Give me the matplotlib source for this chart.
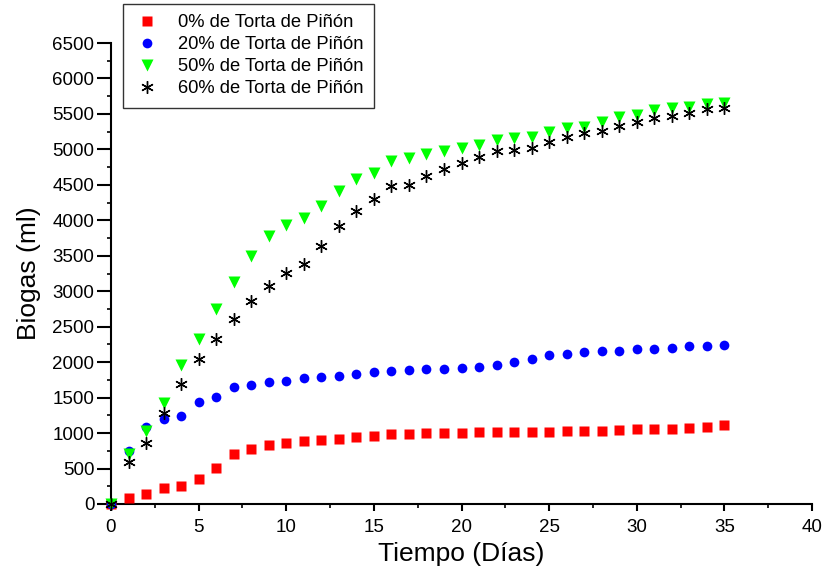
import matplotlib
matplotlib.use("Agg")
import matplotlib.pyplot as plt
import numpy as np

plt.rcParams["font.family"] = ["Liberation Sans", "DejaVu Sans"]

# days 0..35
dias = list(range(36))

# 0% de Torta de Piñón
biogas_0 = [0, 80, 137, 221, 250, 348, 503, 700, 771, 832, 865, 888, 907, 921,
            949, 959, 982, 992, 997, 1004, 1006, 1010, 1010, 1015, 1015, 1020,
            1024, 1024, 1034, 1043, 1052, 1057, 1057, 1076, 1081, 1114]
# 20% de Torta de Piñón
biogas_20 = [0, 747, 1081, 1194, 1245, 1434, 1513, 1650, 1682, 1716, 1739, 1781,
             1787, 1801, 1833, 1857, 1880, 1885, 1904, 1904, 1913, 1936, 1964,
             2007, 2040, 2097, 2115, 2143, 2157, 2162, 2181, 2190, 2200, 2223,
             2223, 2242]
# 50% de Torta de Piñón
biogas_50 = [0, 708, 1029, 1420, 1960, 2327, 2746, 3136, 3497, 3779, 3935, 4029,
             4202, 4418, 4583, 4672, 4841, 4884, 4936, 4982, 5020, 5063, 5129,
             5157, 5180, 5251, 5298, 5321, 5383, 5454, 5486, 5557, 5581, 5604,
             5638, 5661]
# 60% de Torta de Piñón
biogas_60 = [0, 597, 865, 1288, 1692, 2040, 2327, 2609, 2867, 3074, 3262, 3380,
             3638, 3920, 4131, 4300, 4484, 4498, 4625, 4730, 4813, 4889, 4978,
             4992, 5016, 5110, 5171, 5237, 5261, 5331, 5392, 5449, 5472, 5510,
             5566, 5590]

labels = ["0% de Torta de Piñón", "20% de Torta de Piñón",
          "50% de Torta de Piñón", "60% de Torta de Piñón"]

fig = plt.figure(figsize=(8.25, 5.8), dpi=100)
ax = fig.add_axes([111 / 825, 1 - 504 / 580, (812 - 111) / 825, (504 - 43) / 580])

ax.plot(dias, biogas_0, "s", color="#ff0000", ms=6.5, mec="none", clip_on=False, label=labels[0], zorder=3)
ax.plot(dias, biogas_20, "o", color="#0000ff", ms=7, mec="none", clip_on=False, label=labels[1], zorder=3)
ax.plot(dias, biogas_50, "v", color="#00ff00", ms=9, mec="none", clip_on=False, label=labels[2], zorder=3)
ax.plot(dias, biogas_60, marker=(6, 2, 0), ls="none", color="black", mec="black",
        ms=9, mew=1.0, clip_on=False, label=labels[3], zorder=4)

ax.set_xlim(0, 40)
ax.set_ylim(0, 6500)
ax.set_xticks(np.arange(0, 41, 5))
ax.set_xticks(np.arange(0, 41, 2.5), minor=True)
ax.set_yticks(np.arange(0, 6501, 500))
ax.set_yticks(np.arange(0, 6501, 250), minor=True)

for side in ["top", "right"]:
    ax.spines[side].set_visible(False)
for side in ["left", "bottom"]:
    ax.spines[side].set_linewidth(1.5)

ax.tick_params(which="major", direction="out", width=1.5, labelsize=13.5)
ax.tick_params(which="minor", direction="out", length=3, width=1.2)
ax.tick_params(axis="y", which="major", length=10, pad=2)
ax.tick_params(axis="x", which="major", length=5, pad=6)

ax.set_xlabel("Tiempo (Días)", fontsize=19, labelpad=4)
ax.set_ylabel("Biogas (ml)", fontsize=19, labelpad=8)

leg = fig.legend(loc="upper left", bbox_to_anchor=(123 / 825, 1 - 4 / 580),
                 fontsize=13.2, frameon=True, fancybox=False, edgecolor="black",
                 borderaxespad=0, labelspacing=0.28, handletextpad=0.95,
                 handlelength=1.5, borderpad=0.55, numpoints=1)
leg.get_frame().set_linewidth(1.0)

fig.savefig("out.png", dpi=100)
